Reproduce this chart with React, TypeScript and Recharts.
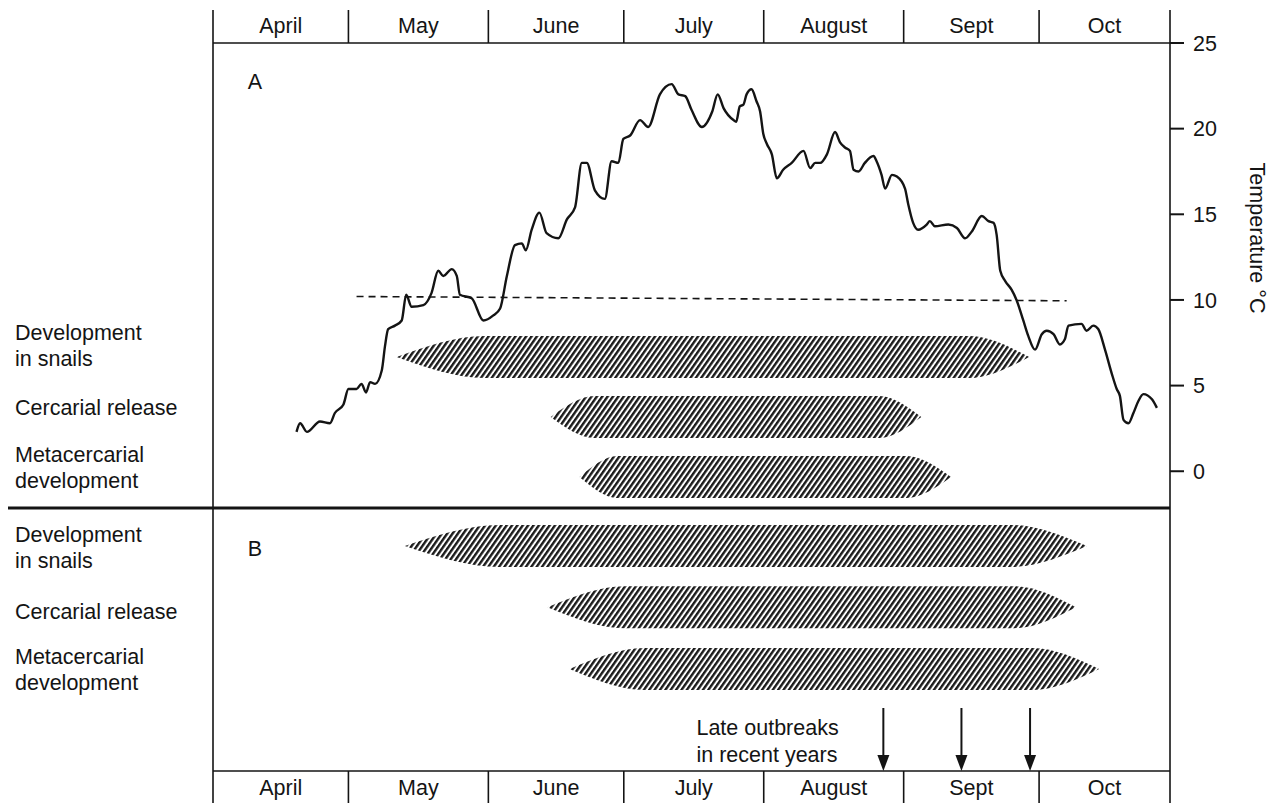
import { ComposedChart, Line, Area, Scatter, XAxis, YAxis, ReferenceLine, ReferenceDot } from 'recharts';

const FONT = '"Liberation Sans", Arial, Helvetica, sans-serif';
const FS = 21.5;
const INK = '#141414';

// calendar: days counted from 1 April
const monthNames = ['April', 'May', 'June', 'July', 'August', 'Sept', 'Oct'];
const monthStarts = [0, 30, 61, 91, 122, 153, 183];
const seasonEnd = 212;

const tempTicks = [0, 5, 10, 15, 20, 25];

// water temperature trace
const tempDays = [
  18.5, 19.3, 20.8, 23.7, 25.9, 27.0, 28.9, 30.0, 31.8, 32.9, 33.9, 34.8, 35.9, 37.4, 38.1, 38.8,
  40.3, 41.8, 42.8, 44.0, 46.6, 48.4, 49.9, 51.0, 52.9, 54.0, 54.7, 57.3, 59.9, 62.1, 63.6, 65.1,
  66.9, 68.4, 69.3, 70.6, 72.3, 73.9, 76.5, 78.4, 80.2, 81.7, 82.8, 84.6, 86.8, 88.3, 89.8, 90.9,
  92.4, 94.6, 96.4, 99.0, 101.6, 103.1, 104.6, 106.0, 108.3, 110.6, 111.8, 113.1, 115.3, 115.9,
  116.7, 117.5, 118.2, 119.3, 120.4, 121.2, 121.9, 122.7, 123.8, 124.9, 126.3, 128.2, 130.8, 132.3,
  133.4, 134.5, 136.0, 137.8, 138.9, 140.0, 141.1, 141.9, 143.0, 144.4, 146.3, 147.0, 148.1, 148.9,
  150.4, 151.5, 153.3, 154.0, 155.1, 156.2, 158.1, 158.8, 159.9, 162.9, 164.8, 166.6, 168.1, 170.3,
  171.8, 172.9, 173.6, 174.4, 175.5, 176.9, 178.0, 179.5, 180.6, 182.1, 183.6, 184.7, 186.2, 187.6,
  188.7, 189.5, 192.4, 193.5, 195.0, 196.1, 197.6, 199.1, 200.2, 200.9, 201.7, 202.8, 203.9, 205.0,
  206.1, 208.0, 209.1,
];
const tempValues = [
  2.3, 2.8, 2.3, 2.9, 2.8, 3.4, 3.9, 4.8, 4.8, 5.1, 4.6, 5.2, 5.1, 5.9, 7.3, 8.3,
  8.5, 8.8, 10.3, 9.6, 9.7, 10.4, 11.7, 11.4, 11.8, 11.4, 10.3, 10.1, 8.8, 9.1, 9.5, 11.4,
  13.2, 13.3, 12.9, 14.1, 15.1, 13.9, 13.6, 14.7, 15.4, 18.0, 18.0, 16.4, 15.9, 18.1, 18.0, 19.4,
  19.6, 20.5, 20.1, 22.0, 22.6, 22.0, 21.9, 21.1, 20.1, 21.0, 22.0, 21.2, 20.5, 20.4,
  21.3, 21.4, 22.0, 22.3, 21.6, 21.0, 19.7, 19.1, 18.5, 17.1, 17.6, 18.0, 18.7, 17.7,
  18.0, 18.0, 18.5, 19.8, 19.2, 18.9, 18.7, 17.6, 17.5, 18.0, 18.4, 18.1, 17.3, 16.5,
  17.3, 17.2, 16.5, 15.6, 14.5, 14.1, 14.4, 14.6, 14.3, 14.4, 14.2, 13.6, 14.0, 14.9,
  14.6, 14.5, 13.8, 11.7, 11.1, 10.6, 10.0, 8.8, 7.9, 7.1, 8.0, 8.2, 8.0, 7.4,
  7.7, 8.5, 8.6, 8.2, 8.5, 8.3, 7.1, 5.7, 4.8, 4.4, 3.0, 2.8, 3.4, 4.1,
  4.5, 4.2, 3.7,
];

// 10 °C threshold (dashed)
const thresholdDays = [31.8, 189.1];
const thresholdValues = [10.2, 9.95];

// A: mean year, B: recent years
const rowLabels = [
  ['Development', 'in snails'],
  ['Cercarial release'],
  ['Metacercarial', 'development'],
  ['Development', 'in snails'],
  ['Cercarial release'],
  ['Metacercarial', 'development'],
];
const rowSlots = [0, 1, 2, 3.15, 4.17, 5.2];
const bandStart = [40.7, 74.8, 81.2, 42.5, 74.1, 79.0];
const bandFullStart = [60.2, 84.5, 89.6, 63.5, 91.2, 95.6];
const bandFullEnd = [167.5, 147.6, 153.6, 176.8, 177.5, 181.5];
const bandEnd = [180.8, 156.9, 163.5, 193.6, 191.2, 196.3];

const outbreakDays = [148.5, 165.8, 181.0];

// row axis layout
const ROW_TOP = -5.233;
const ROW_BOTTOM = 6.9;
const HALF = 0.35;
const DIVIDER = 2.517;
const labelShift = [-12, -10, -10, 1, 4, 0];

const tempData = tempDays.map((day, i) => ({ day, t: tempValues[i] }));
const thresholdData = thresholdDays.map((day, i) => ({ day, t: thresholdValues[i] }));
const bandData = rowSlots.map((row, i) => [
  { day: bandStart[i], range: [row, row] },
  { day: bandFullStart[i], range: [row - HALF, row + HALF] },
  { day: bandFullEnd[i], range: [row - HALF, row + HALF] },
  { day: bandEnd[i], range: [row, row] },
]);
const arrowData = outbreakDays.map((day) => ({ day, row: ROW_BOTTOM }));

const monthCenters = monthStarts.map((s, i) => (s + (i + 1 < monthStarts.length ? monthStarts[i + 1] : seasonEnd)) / 2);
const boundaries = [...monthStarts, seasonEnd];
const bandTicks = [...boundaries, ...monthCenters].sort((a, b) => a - b);

const MonthTick = (props: any) => {
  const { x, y, payload, side } = props;
  const dir = side === 'top' ? -1 : 1;
  const m = monthCenters.findIndex((c) => Math.abs(c - payload.value) < 1e-6);
  if (m < 0) {
    return <line x1={x} x2={x} y1={y} y2={y + dir * 33} stroke={INK} strokeWidth={1.6} />;
  }
  return (
    <text x={x} y={y + dir * 17} textAnchor="middle" dominantBaseline="central" fontFamily={FONT} fontSize={FS} fill={INK}>
      {monthNames[m]}
    </text>
  );
};

const RowTick = (props: any) => {
  const { y, payload } = props;
  const i = rowSlots.findIndex((r) => Math.abs(r - payload.value) < 1e-6);
  if (i < 0) return null;
  const lines = rowLabels[i];
  const top = y - ((lines.length - 1) * 26) / 2 + labelShift[i];
  return (
    <text fontFamily={FONT} fontSize={FS} fill={INK} textAnchor="start">
      {lines.map((l, k) => (
        <tspan key={k} x={7} y={top + k * 26} dy="0.35em">
          {l}
        </tspan>
      ))}
    </text>
  );
};

const TempLabel = (props: any) => {
  const { viewBox } = props;
  return (
    <text
      transform={`translate(${viewBox.x + 87}, ${viewBox.y + 195}) rotate(90)`}
      textAnchor="middle"
      dominantBaseline="central"
      fontFamily={FONT}
      fontSize={FS}
      fill={INK}
    >
      Temperature °C
    </text>
  );
};

const ArrowShape = (props: any) => {
  const { cx, cy } = props;
  return (
    <g>
      <line x1={cx} x2={cx} y1={cy - 63} y2={cy - 14} stroke={INK} strokeWidth={2} />
      <path d={`M${cx - 6},${cy - 16} L${cx + 6},${cy - 16} L${cx},${cy} Z`} fill={INK} />
    </g>
  );
};

const panelLetter = (letter: string) => (props: any) => (
  <text x={props.cx} y={props.cy} textAnchor="middle" dominantBaseline="central" fontFamily={FONT} fontSize={FS} fill={INK}>
    {letter}
  </text>
);

const OutbreakNote = (props: any) => (
  <text fontFamily={FONT} fontSize={FS} fill={INK} textAnchor="start">
    <tspan x={props.cx} y={props.cy} dy="0.35em">Late outbreaks</tspan>
    <tspan x={props.cx} y={props.cy + 27} dy="0.35em">in recent years</tspan>
  </text>
);

export default function App() {
  return (
    <ComposedChart width={1263} height={795} margin={{ top: 2, right: 0, bottom: 0, left: 0 }}>
      <defs>
        <pattern id="hatch" width="4.4" height="4.4" patternUnits="userSpaceOnUse" patternTransform="rotate(35)">
          <rect x="0" y="0" width="2.4" height="4.4" fill="#1a1a1a" />
        </pattern>
      </defs>
      <XAxis
        xAxisId="days"
        orientation="top"
        type="number"
        dataKey="day"
        domain={[0, seasonEnd]}
        allowDataOverflow
        ticks={bandTicks}
        interval={0}
        tickSize={0}
        tickMargin={0}
        tickLine={false}
        tick={(p: any) => <MonthTick {...p} side="top" />}
        height={33}
        axisLine={{ stroke: INK, strokeWidth: 1.6 }}
      />
      <XAxis
        xAxisId="bottom"
        orientation="bottom"
        type="number"
        dataKey="day"
        domain={[0, seasonEnd]}
        allowDataOverflow
        ticks={bandTicks}
        interval={0}
        tickSize={0}
        tickMargin={0}
        tickLine={false}
        tick={(p: any) => <MonthTick {...p} side="bottom" />}
        height={32}
        axisLine={{ stroke: INK, strokeWidth: 1.6 }}
      />
      <YAxis
        yAxisId="rows"
        orientation="left"
        type="number"
        dataKey="row"
        width={205}
        domain={[ROW_TOP, ROW_BOTTOM]}
        reversed
        allowDataOverflow
        ticks={rowSlots}
        interval={0}
        tickLine={false}
        tick={RowTick}
        axisLine={{ stroke: INK, strokeWidth: 1.6 }}
      />
      <YAxis
        yAxisId="temp"
        orientation="right"
        type="number"
        width={101}
        domain={[-17.5, 25]}
        allowDataOverflow
        ticks={tempTicks}
        interval={0}
        tickSize={14}
        tickMargin={9}
        tickLine={{ stroke: INK, strokeWidth: 2 }}
        axisLine={{ stroke: INK, strokeWidth: 1.6 }}
        tick={{ fontFamily: FONT, fontSize: FS, fill: INK }}
        label={TempLabel}
      />

      {bandData.map((d, i) => (
        <Area
          key={i}
          data={d}
          xAxisId="days"
          yAxisId="rows"
          dataKey="range"
          type="monotoneX"
          stroke="none"
          fill="url(#hatch)"
          fillOpacity={1}
          dot={false}
          activeDot={false}
          isAnimationActive={false}
        />
      ))}

      <Line
        data={thresholdData}
        xAxisId="days"
        yAxisId="temp"
        dataKey="t"
        stroke={INK}
        strokeWidth={1.6}
        strokeDasharray="7 5"
        dot={false}
        activeDot={false}
        isAnimationActive={false}
      />
      <Line
        data={tempData}
        xAxisId="days"
        yAxisId="temp"
        dataKey="t"
        type="monotone"
        stroke={INK}
        strokeWidth={2.4}
        dot={false}
        activeDot={false}
        isAnimationActive={false}
      />

      <ReferenceLine
        xAxisId="days"
        yAxisId="rows"
        segment={[{ x: -47.2, y: DIVIDER }, { x: seasonEnd, y: DIVIDER }]}
        ifOverflow="visible"
        stroke={INK}
        strokeWidth={3}
      />

      <Scatter
        data={arrowData}
        xAxisId="bottom"
        yAxisId="rows"
        shape={ArrowShape}
        isAnimationActive={false}
      />

      <ReferenceDot xAxisId="days" yAxisId="temp" x={9.3} y={22.7} r={0} ifOverflow="visible" shape={panelLetter('A')} />
      <ReferenceDot xAxisId="days" yAxisId="rows" x={9.3} y={3.2} r={0} ifOverflow="visible" shape={panelLetter('B')} />
      <ReferenceDot xAxisId="days" yAxisId="rows" x={107.1} y={6.17} r={0} ifOverflow="visible" shape={OutbreakNote} />
    </ComposedChart>
  );
}
